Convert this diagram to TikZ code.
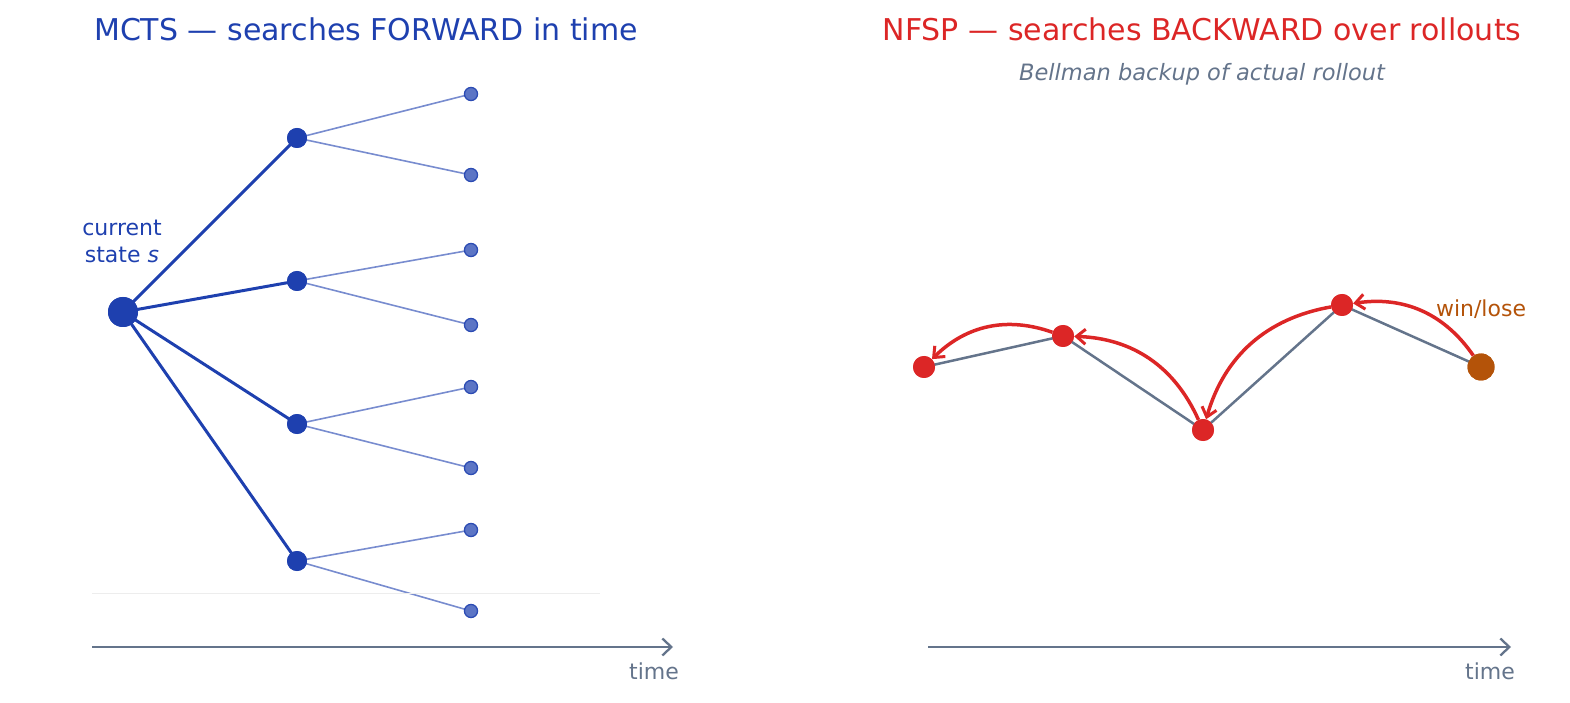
\documentclass[tikz,border=0pt]{standalone}
\usepackage{fontspec}
\setmainfont{DejaVu Sans}
\usetikzlibrary{arrows.meta}
\definecolor{bluec}{HTML}{1E40AF}
\definecolor{redc}{HTML}{DC2626}
\definecolor{orangec}{HTML}{B45309}
\definecolor{slatec}{HTML}{64748B}
\newcommand{\fsz}[1]{\fontsize{#1}{#1}\selectfont}
\begin{document}
\begin{tikzpicture}[x=1pt,y=1pt,
  rootdot/.style={circle,fill=bluec,minimum size=30pt,inner sep=0pt},
  middot/.style={circle,fill=bluec,minimum size=20pt,inner sep=0pt},
  leafdot/.style={circle,fill=bluec,fill opacity=0.72,draw=bluec,draw opacity=0.8,line width=1.2pt,minimum size=13pt,inner sep=0pt},
  rdot/.style={circle,fill=redc,minimum size=22pt,inner sep=0pt},
  odot/.style={circle,fill=orangec,minimum size=27pt,inner sep=0pt},
  mainedge/.style={draw=bluec,line width=3pt},
  leafedge/.style={draw=bluec,draw opacity=0.6,line width=1.6pt},
  pathedge/.style={draw=slatec,line width=2.5pt},
  backarrow/.style={draw=redc,line width=3.5pt,-{Straight Barb[length=9pt,width=15pt,line width=3pt]}},
  timearrow/.style={draw=slatec,line width=2.5pt,-{Straight Barb[length=9pt,width=17pt,line width=2.3pt]}},
  lbl/.style={inner sep=0pt,anchor=base}]
\useasboundingbox (0,0) rectangle (1570,702);
% titles
\node[lbl,text=bluec] (t1) at (366,661) {\fsz{30}MCTS — searches FORWARD in time};
\node[lbl,text=redc] (t2) at (1202,661) {\fsz{30}NFSP — searches BACKWARD over rollouts};
\node[lbl,text=slatec] (st) at (1202,621) {\fsz{22.5}\itshape Bellman backup of actual rollout};
% left tree
\node[rootdot] (r) at (123,390) {};
\node[middot] (m1) at (297,564) {};
\node[middot] (m2) at (297,421) {};
\node[middot] (m3) at (297,278) {};
\node[middot] (m4) at (297,141) {};
\node[leafdot] (l1) at (471,608) {};
\node[leafdot] (l2) at (471,527) {};
\node[leafdot] (l3) at (471,452) {};
\node[leafdot] (l4) at (471,377) {};
\node[leafdot] (l5) at (471,315) {};
\node[leafdot] (l6) at (471,234) {};
\node[leafdot] (l7) at (471,172) {};
\node[leafdot] (l8) at (471,91) {};
\foreach \m in {m1,m2,m3,m4} \path[mainedge] (r.center) -- (\m.center);
\path[leafedge] (m1.center) -- (l1.center) (m1.center) -- (l2.center)
  (m2.center) -- (l3.center) (m2.center) -- (l4.center)
  (m3.center) -- (l5.center) (m3.center) -- (l6.center)
  (m4.center) -- (l7.center) (m4.center) -- (l8.center);
% redraw dots on top
\node[rootdot] at (r) {};
\foreach \m in {m1,m2,m3,m4} \node[middot] at (\m) {};
\foreach \l in {l1,l2,l3,l4,l5,l6,l7,l8} \node[circle,fill=white,minimum size=13pt,inner sep=0pt] at (\l) {};
\foreach \l in {l1,l2,l3,l4,l5,l6,l7,l8} \node[leafdot] at (\l) {};
\node[text=bluec,inner sep=0pt,anchor=base] (cs) at (122,466) {\fsz{22}current};
\node[text=bluec,inner sep=0pt,anchor=base] (cs2) at (122,439) {\fsz{22}state \textit{s}};
% faint axis line
\coordinate (fa) at (92,109);
\coordinate (fb) at (600,109);
\draw[black!7,line width=1pt] (fa) -- (fb);
% left time axis
\coordinate (la) at (92,55);
\coordinate (lb) at (673,55);
\draw[timearrow] (la) -- (lb);
\node[lbl,text=slatec] (tl) at (654,23) {\fsz{22}time};
% right path
\node[rdot] (a) at (924,335) {};
\node[rdot] (b) at (1063,366) {};
\node[rdot] (c) at (1203,272) {};
\node[rdot] (d) at (1342,397) {};
\node[odot] (e) at (1481,335) {};
\path[pathedge] (a.center) -- (b.center) -- (c.center) -- (d.center) -- (e.center);
\node[rdot] at (a) {};
\node[rdot] at (b) {};
\node[rdot] at (c) {};
\node[rdot] at (d) {};
\node[odot] at (e) {};
\draw[backarrow] (e) to[bend right=32] (d);
\draw[backarrow] (d) to[bend right=32] (c);
\draw[backarrow] (c) to[bend right=32] (b);
\draw[backarrow] (b) to[bend right=32] (a);
\node[lbl,text=orangec] (wl) at (1481,385) {\fsz{22}win/lose};
% right time axis
\coordinate (ra) at (928,55);
\coordinate (rb) at (1511,55);
\draw[timearrow] (ra) -- (rb);
\node[lbl,text=slatec] (tr) at (1490,23) {\fsz{22}time};
\end{tikzpicture}
\end{document}
